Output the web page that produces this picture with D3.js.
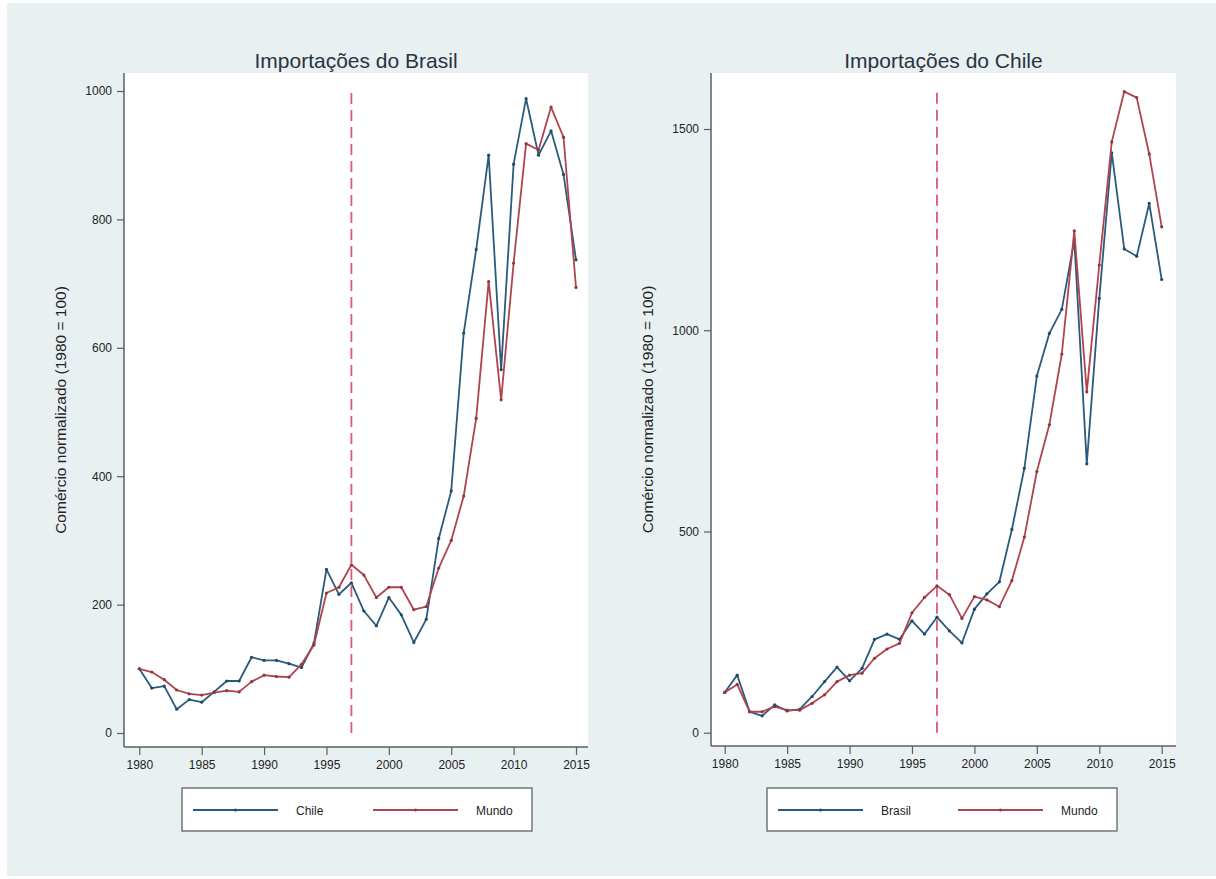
<!DOCTYPE html>
<html>
<head>
<meta charset="utf-8">
<script src="https://cdn.jsdelivr.net/npm/d3@7"></script>
<style>
  html, body { margin: 0; padding: 0; background: #ffffff; }
  svg { display: block; font-family: "Liberation Sans", Arial, Helvetica, sans-serif; }
</style>
</head>
<body>
<svg id="chart" width="1216" height="879"></svg>
<script>
// Years shared by both panels
const years = d3.range(1980, 2016);
const yearTicks = [1980, 1985, 1990, 1995, 2000, 2005, 2010, 2015];
const markerYear = 1997;

// Brazilian imports (1980 = 100)
const brasilFromChile = [100, 70, 73, 37, 52, 48, 64, 81, 81, 118, 113, 113, 108, 102, 140, 255, 216, 234, 190, 167,
  211, 184, 141, 177, 303, 377, 623, 753, 900, 566, 886, 988, 900, 938, 870, 737];
const brasilFromWorld = [100, 95, 83, 67, 61, 59, 63, 66, 64, 80, 90, 88, 87, 107, 137, 218, 227, 262, 246, 211,
  227, 227, 192, 197, 257, 300, 369, 490, 703, 519, 732, 918, 908, 975, 928, 694];
const brasilTicks = [0, 200, 400, 600, 800, 1000];

// Chilean imports (1980 = 100)
const chileFromBrasil = [100, 143, 52, 42, 69, 54, 58, 90, 127, 163, 129, 160, 232, 245, 232, 278, 245, 287, 253, 223,
  307, 345, 375, 505, 657, 886, 992, 1052, 1224, 668, 1079, 1441, 1202, 1184, 1315, 1126];
const chileFromWorld = [100, 120, 52, 52, 65, 56, 56, 73, 94, 127, 143, 148, 185, 208, 222, 298, 336, 365, 343, 284,
  338, 330, 313, 378, 486, 649, 765, 941, 1247, 847, 1162, 1468, 1593, 1578, 1438, 1257];
const chileTicks = [0, 500, 1000, 1500];

const yTitle = "Comércio normalizado (1980 = 100)";

const BLUE = "#2b5b7c";
const RED = "#b0444d";
const DASH = "#d9587c";
const AXIS = "#5a5f63";
const TEXT = "#1f2326";

const svg = d3.select("#chart");

// page background
svg.append("rect").attr("x", 0).attr("y", 0).attr("width", 1216).attr("height", 879).attr("fill", "#ffffff");
svg.append("rect").attr("x", 7).attr("y", 3).attr("width", 1209).attr("height", 873).attr("fill", "#e8f0f2");

function drawPanel(p) {
  const g = svg.append("g");
  const x = d3.scaleLinear().domain([1980, 2015]).range([p.x0, p.x1]);
  const y = d3.scaleLinear().domain([0, p.yMax]).range([p.yBase, p.yTop]);

  // plot region
  g.append("rect")
    .attr("x", p.left).attr("y", p.top)
    .attr("width", p.right - p.left).attr("height", p.bottom - p.top)
    .attr("fill", "#ffffff");

  // title
  g.append("text")
    .attr("x", (p.left + p.right) / 2).attr("y", 68)
    .attr("text-anchor", "middle")
    .attr("font-size", 21)
    .attr("fill", "#2a3340")
    .text(p.title);

  // y axis
  const yAxis = d3.axisLeft(y).tickValues(p.yTicks).tickSize(7).tickPadding(5).tickFormat(d3.format("d"));
  const ya = g.append("g").attr("transform", `translate(${p.left},0)`).call(yAxis);
  ya.select(".domain").remove();
  ya.append("line").attr("x1", 0).attr("x2", 0).attr("y1", p.top).attr("y2", p.bottom)
    .attr("stroke", AXIS).attr("stroke-width", 1.5);
  ya.selectAll(".tick line").attr("stroke", AXIS).attr("stroke-width", 1.2);
  ya.selectAll(".tick text").attr("font-size", 12).attr("fill", TEXT)
    .attr("font-family", "'Liberation Sans', Arial, sans-serif");

  // x axis
  const xAxis = d3.axisBottom(x).tickValues(yearTicks).tickSize(8).tickPadding(5).tickFormat(d3.format("d"));
  const xa = g.append("g").attr("transform", `translate(0,${p.bottom})`).call(xAxis);
  xa.select(".domain").remove();
  xa.append("line").attr("x1", p.left).attr("x2", p.right).attr("y1", 0).attr("y2", 0)
    .attr("stroke", AXIS).attr("stroke-width", 1.5);
  xa.selectAll(".tick line").attr("stroke", AXIS).attr("stroke-width", 1.2);
  xa.selectAll(".tick text").attr("font-size", 12).attr("fill", TEXT)
    .attr("font-family", "'Liberation Sans', Arial, sans-serif");

  // y axis title
  g.append("text")
    .attr("transform", `translate(${p.left - 58},${(p.top + p.bottom) / 2}) rotate(-90)`)
    .attr("text-anchor", "middle")
    .attr("font-size", 15.5)
    .attr("fill", TEXT)
    .text(yTitle);

  // reference year
  g.append("line")
    .attr("x1", x(markerYear)).attr("x2", x(markerYear))
    .attr("y1", y(0)).attr("y2", p.top + 14)
    .attr("stroke", DASH).attr("stroke-width", 1.8)
    .attr("stroke-dasharray", "11,6");

  // series
  const line = d3.line().x((d, i) => x(years[i])).y(d => y(d));
  p.series.forEach(s => {
    g.append("path").datum(s.values)
      .attr("fill", "none").attr("stroke", s.color).attr("stroke-width", 1.8)
      .attr("stroke-linejoin", "round")
      .attr("d", line);
    g.selectAll(null).data(s.values).enter().append("circle")
      .attr("cx", (d, i) => x(years[i])).attr("cy", d => y(d))
      .attr("r", 1.6).attr("fill", d3.color(s.color).darker(0.6));
  });

  // legend
  const lg = g.append("g").attr("transform", `translate(${p.legendX},788)`);
  lg.append("rect").attr("x", 0).attr("y", 0).attr("width", 350).attr("height", 43)
    .attr("fill", "#ffffff").attr("stroke", "#5f6366").attr("stroke-width", 1.3);
  p.series.forEach((s, i) => {
    const ox = 11 + i * 180;
    lg.append("line").attr("x1", ox).attr("x2", ox + 85).attr("y1", 22).attr("y2", 22)
      .attr("stroke", s.color).attr("stroke-width", 1.8);
    lg.append("circle").attr("cx", ox + 42.5).attr("cy", 22).attr("r", 1.5).attr("fill", d3.color(s.color).darker(0.6));
    lg.append("text").attr("x", ox + 103).attr("y", 26.5)
      .attr("font-size", 12).attr("fill", TEXT).text(s.name);
  });
}

drawPanel({
  title: "Importações do Brasil",
  left: 124, right: 588, top: 73, bottom: 747,
  x0: 139.3, x1: 576,
  yBase: 733, yTop: 91, yMax: 1000,
  yTicks: brasilTicks,
  legendX: 182,
  series: [
    { name: "Chile", values: brasilFromChile, color: BLUE },
    { name: "Mundo", values: brasilFromWorld, color: RED }
  ]
});

drawPanel({
  title: "Importações do Chile",
  left: 711, right: 1176, top: 73, bottom: 746,
  x0: 724.7, x1: 1161.7,
  yBase: 732.7, yTop: 129, yMax: 1500,
  yTicks: chileTicks,
  legendX: 767,
  series: [
    { name: "Brasil", values: chileFromBrasil, color: BLUE },
    { name: "Mundo", values: chileFromWorld, color: RED }
  ]
});
</script>
</body>
</html>
